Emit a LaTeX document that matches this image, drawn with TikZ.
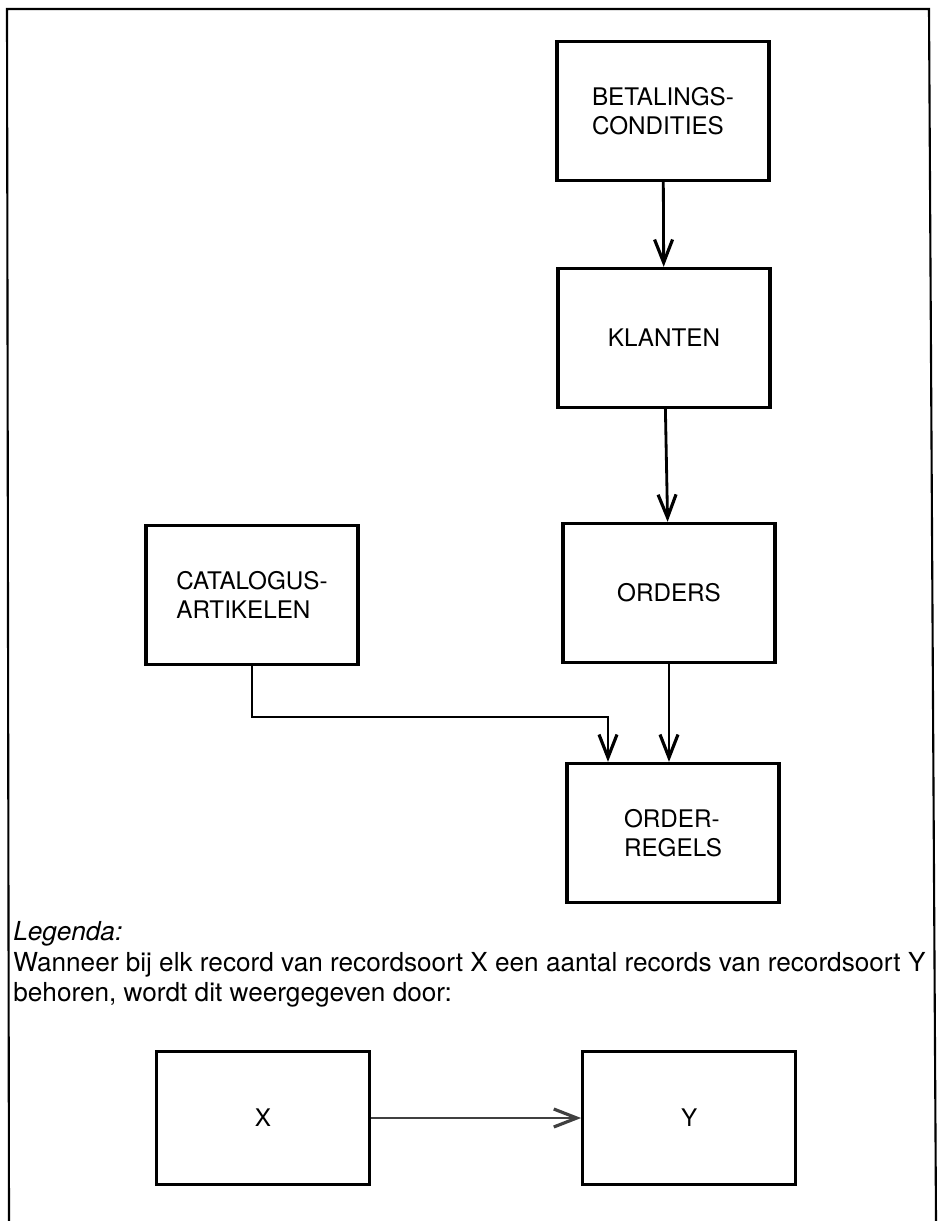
\documentclass[tikz,border=0pt]{standalone}
\usepackage{fontspec}
\setmainfont{TeX Gyre Heros}
\usetikzlibrary{arrows.meta,positioning}

\newcommand{\recfont}{\fontsize{13.8}{16.5}\selectfont}
\newcommand{\legfont}{\fontsize{14.9}{17.4}\selectfont}

\tikzset{
  record/.style={draw, line width=1.9pt, minimum width=4.24cm, minimum height=2.78cm,
    align=left, font=\recfont, inner sep=0pt},
  link/.style={line width=1.6pt,
    -{Straight Barb[length=4.6mm,width=3.6mm,line width=1.8pt]}},
}

\begin{document}
\begin{tikzpicture}[x=0.02cm,y=-0.02cm]
\useasboundingbox (0,0) rectangle (945,1221);
% kader
\draw[line width=1.2pt] (9,1221) -- (7,9) -- (929,9) -- (936,1221);

% recordsoorten
\node[record] (bet) at (663,111) {BETALINGS-\\CONDITIES};
\node[record] (kla) at (664,338) {KLANTEN};
\node[record] (ord) at (669,593) {ORDERS};
\node[record] (cat) at (252,595) {CATALOGUS-\\ARTIKELEN};
\node[record] (reg) at (673,833) {ORDER-\\REGELS};

\draw[link] (bet) -- (kla);
\draw[link] (kla) -- (ord);
\draw[link] (ord) -- (ord |- reg.north);
\coordinate (knik) at (608,717);
\draw[link] (cat.south) |- (knik) -- (knik |- reg.north);

% legenda
\node[anchor=north west, align=left, font=\legfont, inner sep=0pt] (leg) at (13,921)
  {\textit{Legenda:}\\
   Wanneer bij elk record van recordsoort X een aantal records van recordsoort Y\\
   behoren, wordt dit weergegeven door:};
\node[record, minimum width=4.26cm, minimum height=2.66cm] (x) at (263,1118) {X};
\node[record, minimum width=4.26cm, minimum height=2.66cm, right=4.2cm of x] (y) {Y};
\draw[link, line width=1.2pt, black!75] (x) -- (y);
\end{tikzpicture}
\end{document}
